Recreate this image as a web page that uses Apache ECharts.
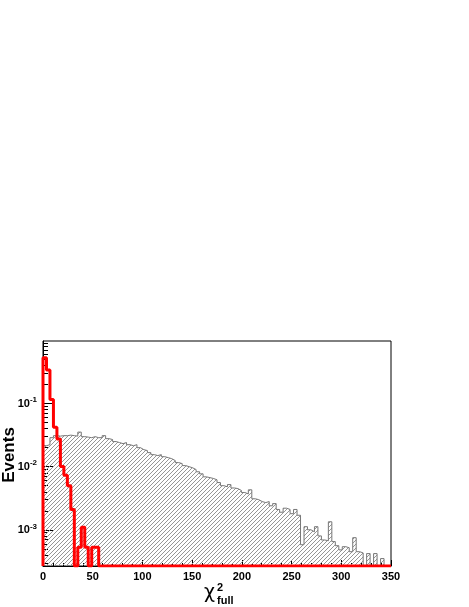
<!DOCTYPE html>
<html>
<head>
<meta charset="utf-8">
<script src="https://cdn.jsdelivr.net/npm/echarts@6/dist/echarts.min.js"></script>
<style>
html, body { margin: 0; padding: 0; background: #fff; }
#chart { width: 469px; height: 607px; }
</style>
</head>
<body>
<div id="chart"></div>
<script>
// 100 bins, 0..350
const binWidth = 3.5;
const yMin = 2.67e-4;
const yMax = 0.98;
const yLabelTicks = [1e-3, 1e-2, 1e-1];
const yMinorTicks = [
  3e-4, 4e-4, 5e-4, 6e-4, 7e-4, 8e-4, 9e-4,
  2e-3, 3e-3, 4e-3, 5e-3, 6e-3, 7e-3, 8e-3, 9e-3,
  2e-2, 3e-2, 4e-2, 5e-2, 6e-2, 7e-2, 8e-2, 9e-2,
  2e-1, 3e-1, 4e-1, 5e-1, 6e-1, 7e-1, 8e-1, 9e-1
];

// hatched histogram (all events)
const bkgValues = [
  0.0215, 0.0223, 0.0288, 0.0310, 0.0305, 0.0310, 0.0310, 0.0316, 0.0310, 0.0305,
  0.0353, 0.0299, 0.0294, 0.0288, 0.0299, 0.0288, 0.0288, 0.0310, 0.0278, 0.0269,
  0.0250, 0.0241, 0.0232, 0.0241, 0.0223, 0.0215, 0.0223, 0.0200, 0.0186, 0.0180,
  0.0167, 0.0155, 0.0150, 0.0155, 0.0144, 0.0139, 0.0134, 0.0125, 0.0116, 0.0112,
  0.0104, 0.0100, 0.0096, 0.0090, 0.0083, 0.0077, 0.0069, 0.0067, 0.0065, 0.0062,
  0.0056, 0.0050, 0.0048, 0.0052, 0.0046, 0.0045, 0.0042, 0.0039, 0.0037, 0.0043,
  0.0031, 0.0030, 0.0028, 0.0027, 0.0028, 0.0024, 0.0026, 0.0021, 0.0019, 0.0022,
  0.0021, 0.0018, 0.0021, 0.0017, 0.00058, 0.00112, 0.0010, 0.00093, 0.00112, 0.00080,
  0.00069, 0.00067, 0.00134, 0.00065, 0.00056, 0.00048, 0.00054, 0.00052, 0.00045, 0.00075,
  0.00045, 0.00043, 0, 0.00042, 0, 0.00042, 0, 0.00035, 0, 0
];

// red histogram
const sigValues = [
  0.53, 0.34, 0.116, 0.042, 0.0275, 0.0101, 0.0073, 0.0050, 0.0021, 0,
  0.00053, 0.0011, 0.00053, 0, 0.00053, 0.00053, 0, 0, 0, 0,
  0, 0, 0, 0, 0, 0, 0, 0, 0, 0,
  0, 0, 0, 0, 0, 0, 0, 0, 0, 0,
  0, 0, 0, 0, 0, 0, 0, 0, 0, 0,
  0, 0, 0, 0, 0, 0, 0, 0, 0, 0,
  0, 0, 0, 0, 0, 0, 0, 0, 0, 0,
  0, 0, 0, 0, 0, 0, 0, 0, 0, 0,
  0, 0, 0, 0, 0, 0, 0, 0, 0, 0,
  0, 0, 0, 0, 0, 0, 0, 0, 0, 0
];

function toSteps(vals) {
  const pts = [[0, yMin]];
  vals.forEach((v, i) => pts.push([i * binWidth, v > 0 ? v : yMin]));
  pts.push([vals.length * binWidth, yMin]);
  return pts;
}

// diagonal hatch tile
function hatchTile() {
  const s = 4;
  const c = document.createElement('canvas');
  c.width = s; c.height = s;
  const ctx = c.getContext('2d');
  ctx.strokeStyle = '#969696';
  ctx.lineWidth = 1;
  ctx.beginPath();
  ctx.moveTo(-1, s + 1); ctx.lineTo(s + 1, -1);
  ctx.moveTo(-1, 1); ctx.lineTo(1, -1);
  ctx.moveTo(s - 1, s + 1); ctx.lineTo(s + 1, s - 1);
  ctx.stroke();
  return c;
}

const myChart = echarts.init(document.getElementById('chart'));
const option = {
  animation: false,
  backgroundColor: '#fff',
  grid: {
    left: 43, top: 341, width: 348, height: 225,
    outerBoundsMode: 'none', containLabel: false,
    show: true, borderColor: '#000', borderWidth: 1, backgroundColor: 'transparent'
  },
  xAxis: {
    type: 'value', min: 0, max: 350, interval: 50,
    axisLine: { lineStyle: { color: '#000', width: 1 } },
    axisTick: { inside: true, length: 6, lineStyle: { color: '#000' } },
    minorTick: { show: true, splitNumber: 5, length: 3, lineStyle: { color: '#000' } },
    splitLine: { show: false },
    axisLabel: {
      margin: 5, color: '#000', fontSize: 11, fontWeight: 'bold',
      fontFamily: 'Liberation Sans'
    }
  },
  yAxis: [
    {
      type: 'log', min: yMin, max: yMax, position: 'left',
      axisLine: { show: true, lineStyle: { color: '#000', width: 1 } },
      axisTick: { inside: true, length: 10, customValues: yLabelTicks, lineStyle: { color: '#000' } },
      splitLine: { show: false },
      axisLabel: {
        customValues: yLabelTicks,
        margin: 6,
        formatter: function (v) {
          return '{b|10}{e|' + Math.round(Math.log10(v)) + '}';
        },
        rich: {
          b: { fontSize: 11, fontWeight: 'bold', fontFamily: 'Liberation Sans', color: '#000' },
          e: { fontSize: 8, fontWeight: 'bold', fontFamily: 'Liberation Sans', color: '#000', padding: [0, 0, 7, 0] }
        }
      }
    },
    {
      type: 'log', min: yMin, max: yMax, position: 'left', offset: 0,
      axisLine: { show: false },
      axisTick: { inside: true, length: 5, customValues: yMinorTicks, lineStyle: { color: '#000' } },
      axisLabel: { show: false },
      splitLine: { show: false }
    }
  ],
  graphic: [
    {
      type: 'text', x: 9.5, y: 455, rotation: Math.PI / 2,
      style: {
        text: 'Events', fontSize: 17, fontWeight: 'bold', fontFamily: 'Liberation Sans',
        fill: '#000', align: 'center', verticalAlign: 'middle'
      }
    },
    { type: 'text', x: 204, y: 584, style: { text: 'χ', fontSize: 19, fontFamily: 'DejaVu Sans', fill: '#000' } },
    { type: 'text', x: 217, y: 582, style: { text: '2', fontSize: 11, fontWeight: 'bold', fontFamily: 'Liberation Sans', fill: '#000' } },
    { type: 'text', x: 217, y: 595, style: { text: 'full', fontSize: 11, fontWeight: 'bold', fontFamily: 'Liberation Sans', fill: '#000' } }
  ],
  series: [
    {
      type: 'line', step: 'end', symbol: 'none', yAxisIndex: 0,
      data: toSteps(bkgValues),
      lineStyle: { color: '#777', width: 1 },
      areaStyle: { origin: 'start', opacity: 1, color: { image: hatchTile(), repeat: 'repeat' } },
      z: 2
    },
    {
      type: 'line', step: 'end', symbol: 'none', yAxisIndex: 0,
      data: toSteps(sigValues),
      lineStyle: { color: '#ff0000', width: 3 },
      z: 3
    }
  ]
};
myChart.setOption(option);
window.addEventListener('resize', function () {
  myChart.resize();
});
</script>
</body>
</html>
